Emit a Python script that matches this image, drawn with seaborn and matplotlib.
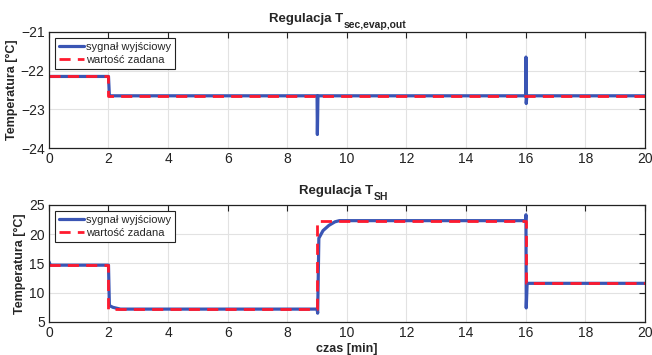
import matplotlib
matplotlib.use("Agg")
import matplotlib.pyplot as plt
import seaborn as sns
import pandas as pd

# Time axis ticks [min]
x_ticks = [0, 2, 4, 6, 8, 10, 12, 14, 16, 18, 20]

# Panel 1: T_sec,evap,out
sp1_t = [0, 2.0, 2.0, 20]
sp1_y = [-22.15, -22.15, -22.65, -22.65]
out1_t = [0, 2.0, 2.03, 9.0, 9.01, 9.03, 16.0, 16.01, 16.02, 16.04, 20]
out1_y = [-22.15, -22.15, -22.65, -22.65, -23.65, -22.65, -22.65, -21.65, -22.85, -22.65, -22.65]
y1_ticks = [-24, -23, -22, -21]

# Panel 2: T_SH
sp2_t = [0, 2.0, 2.0, 9.0, 9.0, 16.0, 16.0, 20]
sp2_y = [14.7, 14.7, 7.2, 7.2, 22.3, 22.3, 11.6, 11.6]
out2_t = [0, 0.05, 2.0, 2.03, 2.15, 2.4, 9.0, 9.02, 9.06, 9.2, 9.4, 9.6, 9.75,
          16.0, 16.01, 16.02, 16.05, 20]
out2_y = [15.3, 14.7, 14.7, 7.8, 7.5, 7.2, 7.2, 6.5, 19.3, 20.6, 21.5, 22.1, 22.3,
          22.3, 23.3, 7.4, 11.6, 11.6]
y2_ticks = [5, 10, 15, 20, 25]

labels = ["sygnał wyjściowy", "wartość zadana"]

sns.set_theme(style="whitegrid")
plt.rcParams["font.family"] = ["Liberation Sans", "DejaVu Sans"]

BLUE = "#3a55b4"
RED = "#ff1a2e"

fig = plt.figure(figsize=(6.52, 3.55), dpi=100)
ax1 = fig.add_axes([0.075, 0.583, 0.914, 0.327])
ax2 = fig.add_axes([0.075, 0.093, 0.914, 0.330])


def titled(ax, sub, xfrac):
    # "Regulacja T" with a larger, lowered subscript placed right after it
    main = ax.annotate("Regulacja T", xy=(xfrac, 1), xycoords="axes fraction",
                       xytext=(0, 7.5), textcoords="offset points",
                       ha="right", va="baseline", fontsize=9.5, fontweight="bold")
    ax.annotate(sub, xy=(1, 0), xycoords=main, xytext=(0.8, -2.2),
                textcoords="offset points", ha="left", va="baseline",
                fontsize=7.5, fontweight="bold")


def draw(ax, st, sy, ot, oy, yticks):
    out = pd.DataFrame({"t": ot, "v": oy})
    sp = pd.DataFrame({"t": st, "v": sy})
    sns.lineplot(data=out, x="t", y="v", ax=ax, estimator=None, sort=False,
                 color=BLUE, linewidth=2.3, label=labels[0])
    sns.lineplot(data=sp, x="t", y="v", ax=ax, estimator=None, sort=False,
                 color=RED, linewidth=2.0, dashes=(4, 2.6), label=labels[1])
    ax.set_xlim(0, 20)
    ax.set_ylim(yticks[0], yticks[-1])
    ax.set_xticks(x_ticks)
    ax.set_yticks(yticks)
    ax.set_xlabel("")
    ax.set_ylabel("Temperatura [°C]", fontsize=9, fontweight="bold", labelpad=2)
    ax.grid(True, color="#e2e2e2", linewidth=0.8)
    for s in ax.spines.values():
        s.set_color("#222222")
        s.set_linewidth(0.9)
    ax.tick_params(direction="in", length=4, width=0.8, color="#222222",
                   top=True, right=True, labelsize=10, pad=3, labelcolor="#222222")
    leg = ax.legend(loc="upper left", fontsize=8, frameon=True, fancybox=False,
                    edgecolor="#222222", framealpha=1, handlelength=2.3,
                    handletextpad=0.1, borderpad=0.35, labelspacing=0.3,
                    borderaxespad=0.55)
    leg.get_frame().set_linewidth(0.8)


draw(ax1, sp1_t, sp1_y, out1_t, out1_y, y1_ticks)
draw(ax2, sp2_t, sp2_y, out2_t, out2_y, y2_ticks)
titled(ax1, "sec,evap,out", 0.493)
titled(ax2, "SH", 0.544)
ax2.set_xlabel("czas [min]", fontsize=9, fontweight="bold", labelpad=2)

fig.savefig("out.png", dpi=100, facecolor="white")
